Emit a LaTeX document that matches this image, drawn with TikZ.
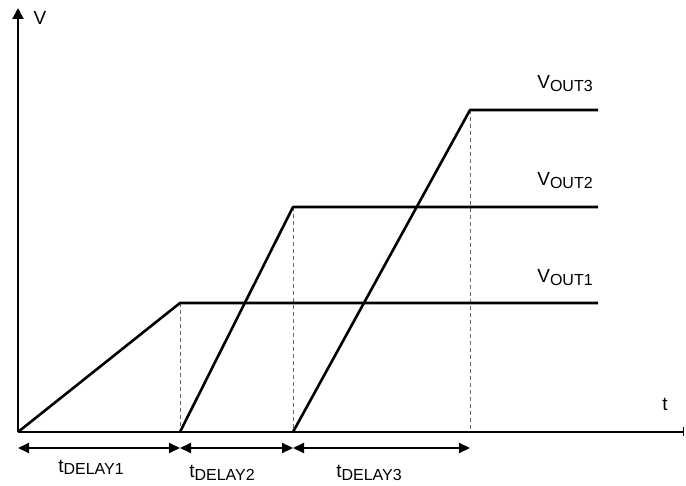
\documentclass[tikz,border=0pt]{standalone}
\usepackage{fontspec}
\setmainfont{Liberation Sans}
\usetikzlibrary{arrows.meta}
\usetikzlibrary{positioning}

\newcommand{\subtxt}[2]{#1\raisebox{-2.5pt}{\fontsize{16}{18}\selectfont #2}}

\begin{document}
\begin{tikzpicture}[x=1pt, y=-1pt,
    curve/.style={line width=2.6pt, line join=round},
    axis/.style={line width=2pt},
    guide/.style={black!60, line width=1pt, dash pattern=on 4pt off 3pt},
    span/.style={line width=2pt, {Triangle[length=11pt,width=10pt]}-{Triangle[length=11pt,width=10pt]}},
    lbl/.style={font=\fontsize{19}{21}\selectfont, inner sep=0pt, anchor=base}]
    \useasboundingbox (0,0) rectangle (686,486);

    % axes
    \coordinate (origin) at (18,432);
    \coordinate (vtop) at (18,8);
    \coordinate (tend) at (684,432);

    % ramps and plateaus
    \coordinate (top1) at (180,303);
    \coordinate (end1) at (598,303);
    \coordinate (start2) at (180,432);
    \coordinate (top2) at (293,207);
    \coordinate (end2) at (598,207);
    \coordinate (start3) at (293,432);
    \coordinate (top3) at (470,110);
    \coordinate (end3) at (598,110);
    \coordinate (foot3) at (470,432);

    % delay markers
    \coordinate (mark0) at (18,448);
    \coordinate (mark1) at (180,448);
    \coordinate (mark2) at (293,448);
    \coordinate (mark3) at (470,448);

    \draw[guide] (top1) -- (start2);
    \draw[guide] (top2) -- (start3);
    \draw[guide] (top3) -- (foot3);

    \draw[axis, -{Triangle[length=11pt,width=11pt]}] (origin) -- (vtop);
    \draw[axis, -{Bar[width=9pt,line width=1.5pt]}] (origin) -- (tend);

    \draw[curve] (origin) -- (top1) -- (end1);
    \draw[curve] (start2) -- (top2) -- (end2);
    \draw[curve] (start3) -- (top3) -- (end3);

    \draw[span] (mark0) -- (mark1);
    \draw[span] (mark1) -- (mark2);
    \draw[span] (mark2) -- (mark3);

    \node[lbl] (vlabel) at (40,25) {V};
    \node[lbl] (tlabel) at (665,410) {t};
    \node[lbl] (vout3) at (565,89) {\subtxt{V}{OUT3}};
    \node[lbl] (vout2) at (565,186) {\subtxt{V}{OUT2}};
    \node[lbl] (vout1) at (565,283) {\subtxt{V}{OUT1}};
    \node[lbl] (delay1) at (91,472) {\subtxt{t}{DELAY1}};
    \node[lbl] (delay2) at (222,478) {\subtxt{t}{DELAY2}};
    \node[lbl] (delay3) at (369,478) {\subtxt{t}{DELAY3}};
\end{tikzpicture}
\end{document}
